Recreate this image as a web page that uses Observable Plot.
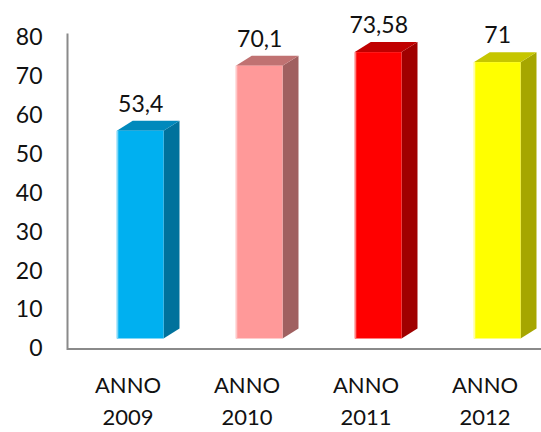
<!DOCTYPE html>
<html><head><meta charset="utf-8">
<script src="https://cdn.jsdelivr.net/npm/d3@7"></script>
<script src="https://cdn.jsdelivr.net/npm/@observablehq/plot@0.6"></script>
<style>html,body{margin:0;padding:0;background:#fff;} svg{display:block;}</style>
</head><body><div id="chart"></div>
<script>
const years = ["2009", "2010", "2011", "2012"];
const values = [53.4, 70.1, 73.58, 71];
const valueLabels = ["53,4", "70,1", "73,58", "71"];
const yTicks = [0, 10, 20, 30, 40, 50, 60, 70, 80];
const frontColors = ["#00B0F0", "#FF9999", "#FF0000", "#FFFF00"];
const topColors = ["#0089BC", "#C07272", "#C00000", "#C6C600"];
const sideColors = ["#00729C", "#A06060", "#A00000", "#A6A600"];
const edgeColors = ["#80D8F8", "#FFC8C8", "#FF8080", "#FFFFA0"];

const data = years.map((year, i) => ({
  year, value: values[i], label: valueLabels[i],
  front: frontColors[i], top: topColors[i], side: sideColors[i], edge: edgeColors[i]
}));

function bars3d(index, scales) {
  const {x, y} = scales;
  const bw = x(years[1]) - x(years[0]);
  const depthX = 0.134 * bw, lift = 10, depthY = 10;
  const g = d3.create("svg:g");
  for (const d of data) {
    const b = x(d.year);
    const fl = b + 0.41 * bw, fr = b + 0.803 * bw;
    const top = y(d.value) - lift, bot = y(0) - lift;
    g.append("path")
      .attr("d", `M${fr},${top}L${fr + depthX},${top - depthY}L${fr + depthX},${bot - depthY}L${fr},${bot}Z`)
      .attr("fill", d.side);
    g.append("path")
      .attr("d", `M${fl},${top}L${fr},${top}L${fr + depthX},${top - depthY}L${fl + depthX},${top - depthY}Z`)
      .attr("fill", d.top);
    g.append("rect").attr("x", fl).attr("y", top).attr("width", fr - fl).attr("height", bot - top).attr("fill", d.front);
    g.append("rect").attr("x", fl).attr("y", top).attr("width", 1.5).attr("height", bot - top).attr("fill", d.edge);
  }
  return g.node();
}

const chart = Plot.plot({
  width: 541,
  height: 432,
  marginLeft: 67,
  marginRight: 0,
  marginTop: 34,
  marginBottom: 83.5,
  style: {fontFamily: "Lato, 'Open Sans', sans-serif", color: "#111", background: "#fff"},
  x: {type: "band", domain: years, range: [67, 545], padding: 0, label: null},
  y: {domain: [0, 80.8], label: null},
  marks: [
    Plot.ruleY([0], {stroke: "#8a8a8a", strokeWidth: 2}),
    Plot.frame({anchor: "left", stroke: "#8a8a8a", strokeWidth: 2}),
    Plot.axisY({ticks: yTicks, tickSize: 0, tickPadding: 25, fontSize: 23, label: null}),
    Plot.axisX({tickSize: 0, tickPadding: 21, fontSize: 22, lineHeight: 1.45, label: null,
      tickFormat: d => "ANNO\n" + d}),
    bars3d,
    Plot.text(data, {x: "year", y: "value", text: "label", dx: 12.7, dy: -37, fontSize: 23, fill: "#111"})
  ]
});
document.getElementById("chart").appendChild(chart);
</script>
</body></html>
